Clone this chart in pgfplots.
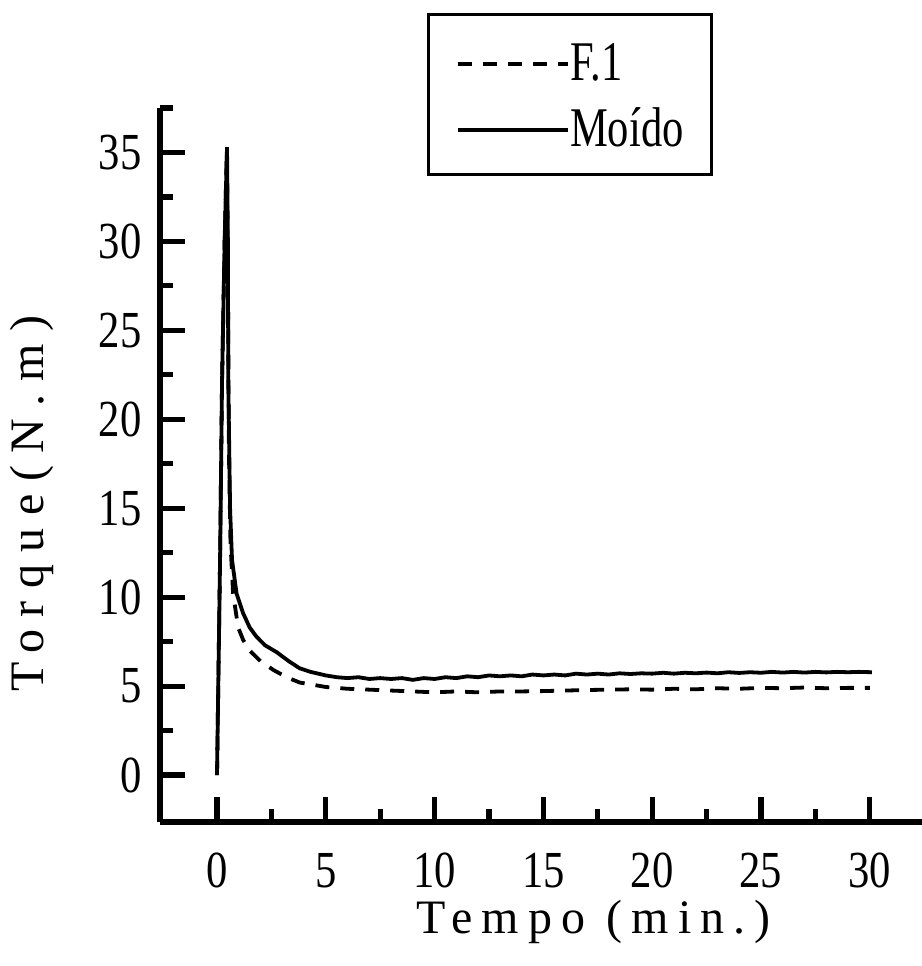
\documentclass[border=0pt]{standalone}
\usepackage{fontspec}
\setmainfont{Liberation Serif}
\newfontfamily\tickfont[FakeStretch=0.82]{Liberation Serif}
\newfontfamily\legfont[FakeStretch=0.76]{Liberation Serif}
\newfontfamily\xlabfont[LetterSpace=19]{Liberation Serif}
\newfontfamily\ylabfont[LetterSpace=26]{Liberation Serif}
\usepackage{pgfplots}
\pgfplotsset{compat=1.18}
\begin{document}
\begin{tikzpicture}
\begin{axis}[
  name=ax,
  scale only axis,
  width=381pt, height=357pt,
  xmin=-2.62, xmax=32.4,
  ymin=-2.64, ymax=37.5,
  axis x line=bottom, axis y line=left,
  axis line style={-, line width=2.8pt},
  xtick={0,5,...,30},
  minor xtick={2.5,7.5,...,27.5},
  ytick={0,5,...,35},
  minor ytick={2.5,7.5,...,37.5},
  xtick align=inside, ytick align=inside,
  major tick length=12.5pt,
  minor tick length=6.5pt,
  every tick/.append style={black, line width=2.6pt},
  /pgf/number format/assume math mode=true,
  tick label style={font=\tickfont\fontsize{26}{26}\selectfont, inner sep=0pt},
  xticklabel style={anchor=base, yshift=-32.5pt},
  yticklabel style={anchor=east, xshift=-9pt},
  xlabel={Tempo (min.)},
  ylabel={Torque(N.m)},
  xlabel style={font=\xlabfont\fontsize{24}{24}\selectfont, at={(axis description cs:0.569,-0.1555)}, anchor=base},
  ylabel style={font=\ylabfont\fontsize{24}{24}\selectfont, at={(axis description cs:-0.1535,0.4454)}, anchor=base},
  legend style={at={(0.350,1.133)}, anchor=north west, draw=black, line width=1.6pt,
    inner xsep=14pt, inner ysep=11pt, row sep=8pt,
    font=\legfont\fontsize{28}{28}\selectfont,
    nodes={text height=22pt, text depth=3pt, inner sep=0pt}},
  legend cell align=left,
  legend image code/.code={\draw[#1] (0pt,-1pt) -- (55pt,-1pt);},
]
\addplot[black, line width=1.9pt, dash pattern=on 7pt off 5.5pt] coordinates {
(0,0) (0.14,12) (0.23,22) (0.35,30) (0.45,35) (0.5,28) (0.55,18) (0.62,13)
(0.74,10.2) (0.97,8.3) (1.2,7.6) (1.5,7.0) (2.0,6.4) (2.6,5.9) (3.2,5.5)
(3.8,5.2) (4.3,5.1) (5,4.95) (6,4.85) (7,4.8) (8,4.75) (9,4.7) (10,4.65)
(11,4.7) (12,4.65) (13,4.7) (14,4.7) (15,4.72) (16,4.75) (17,4.78) (18,4.8)
(19,4.82) (20,4.8) (21,4.85) (22,4.82) (23,4.88) (24,4.85) (25,4.9) (26,4.88)
(27,4.92) (28,4.88) (29,4.9) (30,4.9)
};
\addlegendentry{F.1}
\addplot[black, line width=1.9pt] coordinates {
(0,0) (0.14,12) (0.23,22) (0.35,30) (0.46,35.3) (0.5,30) (0.52,22) (0.6,15)
(0.69,12.1) (0.9,10.2) (1.2,9.1) (1.5,8.3) (1.8,7.8) (2.2,7.3) (2.75,6.9)
(3.3,6.4) (3.8,6.0) (4.3,5.8) (5,5.6) (5.5,5.5) (6,5.45) (6.5,5.5) (7,5.4)
(7.5,5.45) (8,5.4) (8.5,5.45) (9,5.35) (9.5,5.45) (10,5.4) (10.5,5.5) (11,5.45)
(11.5,5.55) (12,5.5) (12.5,5.6) (13,5.55) (13.5,5.6) (14,5.55) (14.5,5.65)
(15,5.6) (15.5,5.65) (16,5.6) (16.5,5.7) (17,5.65) (17.5,5.7) (18,5.65)
(18.5,5.72) (19,5.68) (19.5,5.72) (20,5.7) (20.5,5.75) (21,5.7) (21.5,5.75)
(22,5.72) (22.5,5.76) (23,5.72) (23.5,5.78) (24,5.74) (24.5,5.78) (25,5.75)
(25.5,5.8) (26,5.76) (26.5,5.8) (27,5.76) (27.5,5.8) (28,5.77) (28.5,5.8)
(29,5.78) (29.5,5.8) (30.1,5.78)
};
\addlegendentry{Mo\'ido}
\end{axis}
\pgfresetboundingbox
\path[use as bounding box] ([xshift=-80pt,yshift=-72pt]ax.south west) rectangle ([xshift=381pt,yshift=411pt]ax.south west);
\end{tikzpicture}
\end{document}
